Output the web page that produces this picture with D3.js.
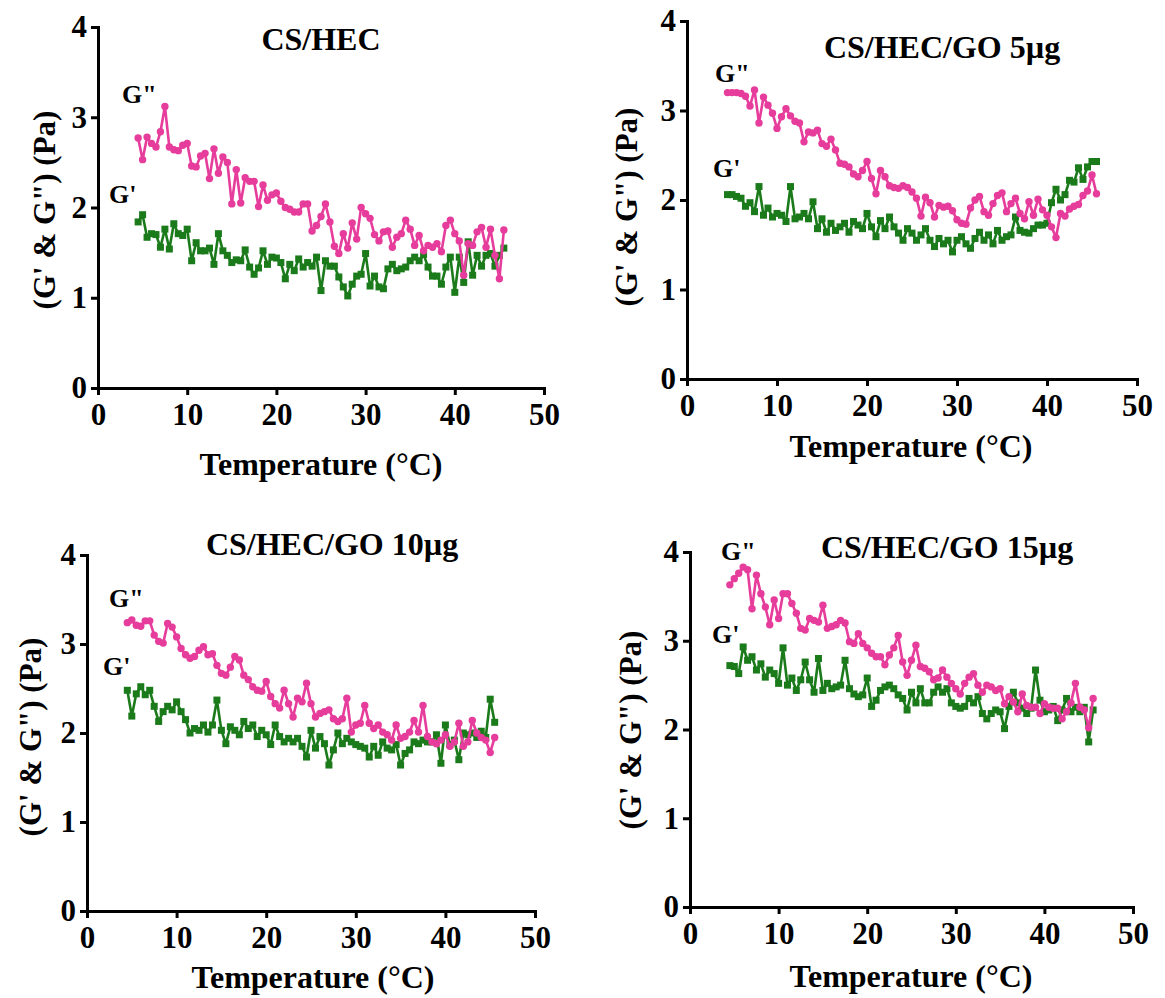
<!DOCTYPE html>
<html>
<head>
<meta charset="utf-8">
<script src="https://cdn.jsdelivr.net/npm/d3@7"></script>
<style>
  body { margin: 0; background: #fff; }
  text { font-family: 'Liberation Serif', 'Times New Roman', serif; font-weight: bold; fill: #000; }
</style>
</head>
<body>
<svg id="chart" width="1165" height="998"></svg>
<script>
// temperature steps (°C), shared by all four samples
const temps = [4.5,5,5.5,6,6.5,7,7.5,8,8.5,9,9.5,10,10.5,11,11.5,12,12.5,13,13.5,14,
  14.5,15,15.5,16,16.5,17,17.5,18,18.5,19,19.5,20,20.5,21,21.5,22,22.5,23,23.5,24,
  24.5,25,25.5,26,26.5,27,27.5,28,28.5,29,29.5,30,30.5,31,31.5,32,32.5,33,33.5,34,
  34.5,35,35.5,36,36.5,37,37.5,38,38.5,39,39.5,40,40.5,41,41.5,42,42.5,43,43.5,44,
  44.5,45,45.5];

// CS/HEC
const gpp1 = [2.77,2.53,2.78,2.71,2.67,2.84,3.12,2.67,2.64,2.63,
  2.69,2.71,2.46,2.45,2.57,2.60,2.32,2.65,2.38,2.56,
  2.50,2.04,2.42,2.05,2.33,2.29,2.29,2.01,2.25,2.08,
  2.14,2.16,2.07,2.00,1.98,1.95,1.95,2.04,2.04,1.74,
  1.80,1.90,2.04,1.84,1.57,1.49,1.71,1.55,1.83,1.65,
  2.00,1.93,1.88,1.70,1.63,1.73,1.74,1.56,1.67,1.71,
  1.86,1.76,1.58,1.69,1.52,1.58,1.56,1.60,1.51,1.80,
  1.86,1.71,1.63,1.25,1.60,1.58,1.73,1.78,1.56,1.76,
  1.47,1.21,1.75];
const gp1 = [1.84,1.92,1.67,1.71,1.70,1.56,1.76,1.54,1.82,1.71,
  1.69,1.76,1.41,1.61,1.52,1.52,1.55,1.37,1.71,1.52,
  1.47,1.39,1.42,1.41,1.53,1.34,1.26,1.33,1.52,1.37,
  1.45,1.44,1.39,1.21,1.37,1.30,1.43,1.34,1.39,1.35,
  1.45,1.08,1.41,1.35,1.35,1.23,1.12,1.02,1.15,1.24,
  1.26,1.49,1.13,1.24,1.12,1.10,1.32,1.37,1.30,1.32,
  1.34,1.41,1.45,1.41,1.48,1.34,1.24,1.24,1.15,1.34,
  1.45,1.06,1.45,1.17,1.62,1.25,1.47,1.35,1.47,1.49,
  1.35,1.47,1.55];

// CS/HEC/GO 5µg
const gpp2 = [3.20,3.20,3.20,3.19,3.16,3.05,3.23,2.86,3.15,3.06,
  2.97,2.80,2.93,3.02,2.94,2.88,2.86,2.65,2.76,2.75,
  2.78,2.63,2.60,2.68,2.56,2.41,2.40,2.37,2.29,2.26,
  2.33,2.43,2.24,2.07,2.33,2.26,2.16,2.14,2.13,2.16,
  2.14,2.09,2.02,1.82,2.03,1.97,1.81,1.94,1.92,1.93,
  1.88,1.78,1.74,1.73,1.91,2.00,2.04,1.87,1.83,1.96,
  2.05,2.08,1.87,1.96,2.02,1.85,1.79,1.98,1.83,2.01,
  1.89,1.83,1.70,1.58,1.85,1.82,1.90,1.93,1.95,2.05,
  2.10,2.28,2.07];
const gp2 = [2.06,2.06,2.04,2.02,1.93,1.97,1.87,2.15,1.83,1.91,
  1.81,1.85,1.83,1.76,2.15,1.79,1.81,1.85,1.79,1.98,
  1.68,1.79,1.64,1.74,1.66,1.70,1.74,1.64,1.76,1.72,
  1.68,1.85,1.70,1.59,1.77,1.68,1.81,1.70,1.63,1.55,
  1.68,1.63,1.55,1.61,1.68,1.55,1.48,1.57,1.51,1.55,
  1.42,1.55,1.59,1.51,1.46,1.57,1.64,1.55,1.61,1.51,
  1.66,1.55,1.59,1.61,1.81,1.66,1.64,1.63,1.68,1.72,
  1.72,1.74,1.97,2.12,2.00,2.06,2.22,2.20,2.36,2.23,
  2.37,2.43,2.43];

// CS/HEC/GO 10µg
const gpp3 = [3.24,3.27,3.21,3.20,3.26,3.26,3.10,3.03,3.01,3.23,
  3.19,3.08,2.95,2.88,2.84,2.86,2.93,2.97,2.88,2.89,
  2.76,2.67,2.65,2.74,2.86,2.82,2.65,2.60,2.52,2.48,
  2.47,2.58,2.41,2.33,2.28,2.48,2.33,2.18,2.39,2.35,
  2.56,2.33,2.18,2.22,2.24,2.26,2.16,2.13,2.16,2.39,
  2.01,2.09,2.11,2.31,2.11,2.05,2.09,2.01,1.98,1.92,
  2.09,1.94,1.96,2.01,2.14,2.01,2.31,1.96,1.90,1.88,
  1.92,1.98,1.85,1.90,2.11,1.85,1.90,2.14,2.00,1.95,
  1.92,1.78,1.95];
const gp3 = [2.48,2.19,2.44,2.52,2.43,2.48,2.30,2.13,2.24,2.30,
  2.26,2.35,2.24,2.15,2.00,2.05,2.03,2.09,2.01,2.09,
  2.37,2.03,1.88,2.07,2.03,1.98,2.13,2.05,2.09,1.96,
  2.03,1.98,1.87,2.09,1.96,1.90,1.94,1.90,1.94,1.85,
  1.73,2.03,1.83,1.96,1.88,1.64,1.81,2.00,1.88,1.94,
  1.90,1.87,1.85,1.83,1.73,1.85,1.75,1.90,1.83,1.81,
  1.87,1.64,1.77,1.81,1.90,1.88,1.92,1.90,1.90,1.98,
  1.66,2.09,1.87,1.92,1.70,2.00,1.98,2.00,1.95,2.02,
  1.95,2.38,2.12];

// CS/HEC/GO 15µg
const gpp4 = [3.63,3.70,3.76,3.83,3.80,3.36,3.74,3.53,3.38,3.18,
  3.46,3.25,3.53,3.53,3.42,3.31,3.14,3.12,3.25,3.23,
  3.21,3.40,3.14,3.16,3.18,3.23,3.20,2.99,2.97,3.08,
  2.97,2.92,2.86,2.82,2.82,2.73,2.84,2.92,3.06,2.76,
  2.61,2.78,2.95,2.71,2.69,2.65,2.56,2.58,2.67,2.59,
  2.52,2.46,2.40,2.52,2.59,2.63,2.50,2.42,2.50,2.48,
  2.44,2.46,2.29,2.37,2.31,2.20,2.40,2.27,2.25,2.25,
  2.18,2.29,2.25,2.24,2.24,2.12,2.20,2.30,2.52,2.25,
  2.22,2.02,2.35];
const gp4 = [2.72,2.71,2.63,2.93,2.78,2.82,2.67,2.74,2.59,2.67,
  2.63,2.52,2.92,2.50,2.58,2.44,2.56,2.76,2.56,2.42,
  2.80,2.44,2.52,2.46,2.48,2.50,2.78,2.46,2.40,2.37,
  2.39,2.58,2.26,2.33,2.44,2.48,2.50,2.46,2.39,2.35,
  2.22,2.42,2.30,2.46,2.30,2.30,2.42,2.48,2.42,2.46,
  2.30,2.26,2.24,2.26,2.35,2.30,2.37,2.18,2.12,2.18,
  2.22,2.20,2.01,2.26,2.42,2.30,2.24,2.18,2.24,2.67,
  2.33,2.20,2.22,2.26,2.10,2.22,2.35,2.20,2.25,2.20,
  2.25,1.86,2.22];

const xTicks = [0, 10, 20, 30, 40, 50];
const yTicks = [0, 1, 2, 3, 4];
const titles = ['CS/HEC', 'CS/HEC/GO 5µg', 'CS/HEC/GO 10µg', 'CS/HEC/GO 15µg'];

const pink = '#e63c9b';
const green = '#1b7b1b';

// pixel layout of the four panels
const layout = [
  { x0: 98,  x1: 544,  y0: 388, y1: 27,  tx: 321, ty: 50,  gppX: 122, gppY: 103, gpX: 109, gpY: 203, xlX: 321, xlY: 475, ylX: 44,  ylY: 210 },
  { x0: 687, x1: 1137, y0: 379, y1: 21,  tx: 942, ty: 58,  gppX: 715, gppY: 82,  gpX: 713, gpY: 177, xlX: 911, xlY: 457, ylX: 626, ylY: 207 },
  { x0: 87,  x1: 535,  y0: 911, y1: 555, tx: 332, ty: 555, gppX: 109, gppY: 607, gpX: 103, gpY: 675, xlX: 313, xlY: 988, ylX: 30,  ylY: 737 },
  { x0: 690, x1: 1133, y0: 907, y1: 552, tx: 947, ty: 558, gppX: 721, gppY: 560, gpX: 712, gpY: 643, xlX: 911, xlY: 987, ylX: 630, ylY: 730 }
];
const series = [[gpp1, gp1], [gpp2, gp2], [gpp3, gp3], [gpp4, gp4]];

const svg = d3.select('#chart');
svg.append('rect').attr('width', 1165).attr('height', 998).attr('fill', '#fff');

layout.forEach((p, i) => {
  const xScale = d3.scaleLinear().domain([0, 50]).range([p.x0, p.x1]);
  const yScale = d3.scaleLinear().domain([0, 4]).range([p.y0, p.y1]);
  const g = svg.append('g');

  const [gpp, gp] = series[i];
  const rowsPP = temps.map((t, k) => ({ t: t, v: gpp[k] }));
  const rowsP = temps.map((t, k) => ({ t: t, v: gp[k] }));

  const line = d3.line().x(d => xScale(d.t)).y(d => yScale(d.v));
  const sq = 7;

  // G' (squares)
  g.append('path').datum(rowsP)
    .attr('d', line).attr('fill', 'none')
    .attr('stroke', green).attr('stroke-width', 2.6).attr('stroke-linejoin', 'round');
  g.selectAll('rect.gp').data(rowsP).enter().append('rect')
    .attr('class', 'gp')
    .attr('x', d => xScale(d.t) - sq / 2)
    .attr('y', d => yScale(d.v) - sq / 2)
    .attr('width', sq).attr('height', sq)
    .attr('fill', green);

  // G'' (circles)
  g.append('path').datum(rowsPP)
    .attr('d', line).attr('fill', 'none')
    .attr('stroke', pink).attr('stroke-width', 2.6).attr('stroke-linejoin', 'round');
  g.selectAll('circle.gpp').data(rowsPP).enter().append('circle')
    .attr('class', 'gpp')
    .attr('cx', d => xScale(d.t))
    .attr('cy', d => yScale(d.v))
    .attr('r', 3.7)
    .attr('fill', pink);

  // axes
  const xAxisG = g.append('g')
    .attr('transform', `translate(0,${p.y0})`)
    .call(d3.axisBottom(xScale).tickValues(xTicks).tickFormat(d3.format('d'))
      .tickSize(7).tickSizeOuter(0).tickPadding(8));
  const yAxisG = g.append('g')
    .attr('transform', `translate(${p.x0},0)`)
    .call(d3.axisLeft(yScale).tickValues(yTicks).tickFormat(d3.format('d'))
      .tickSize(7).tickSizeOuter(0).tickPadding(4));

  [xAxisG, yAxisG].forEach(a => {
    a.attr('font-family', null).attr('font-size', null);
    a.select('.domain').attr('stroke', '#000').attr('stroke-width', 3).attr('stroke-linecap', 'square');
    a.selectAll('.tick line').attr('stroke', '#000').attr('stroke-width', 3);
    a.selectAll('.tick text').style('font-size', '31px').attr('fill', '#000');
  });

  // titles and labels
  g.append('text').attr('x', p.tx).attr('y', p.ty)
    .attr('text-anchor', 'middle').style('font-size', '32px')
    .text(titles[i]);
  g.append('text').attr('x', p.gppX).attr('y', p.gppY)
    .style('font-size', '26px').text('G"');
  g.append('text').attr('x', p.gpX).attr('y', p.gpY)
    .style('font-size', '26px').text("G'");
  g.append('text').attr('x', p.xlX).attr('y', p.xlY)
    .attr('text-anchor', 'middle').style('font-size', '32px')
    .text('Temperature (°C)');
  g.append('text')
    .attr('transform', `translate(${p.ylX},${p.ylY}) rotate(-90)`)
    .attr('text-anchor', 'middle').attr('dy', '0.35em')
    .style('font-size', '31px')
    .text('(G\' & G") (Pa)');
});
</script>
</body>
</html>
